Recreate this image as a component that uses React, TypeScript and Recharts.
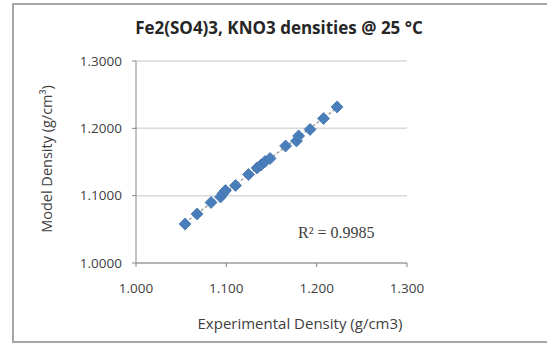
// Fe2(SO4)3, KNO3 densities — model vs experimental scatter with linear trendline.

import React from 'react'
import {
  ScatterChart,
  Scatter,
  XAxis,
  YAxis,
  CartesianGrid,
  ReferenceLine,
} from 'recharts'

const experimental = [
  1.0543, 1.0676, 1.0831, 1.0936, 1.0963, 1.0991, 1.1102, 1.1246, 1.134,
  1.1384, 1.1429, 1.1484, 1.1656, 1.1777, 1.18, 1.1927, 1.2076, 1.2226,
]
const model = [
  1.058, 1.0728, 1.0899, 1.0981, 1.1033, 1.1077, 1.1152, 1.1315, 1.1412,
  1.1456, 1.1508, 1.1553, 1.1738, 1.1813, 1.1887, 1.1984, 1.2147, 1.2318,
]
const xTicks = [1.0, 1.1, 1.2, 1.3]
const yTicks = [1.0, 1.1, 1.2, 1.3]
const rSquared = '0.9985'

const points = experimental.map((x, i) => ({ x, y: model[i] }))

// least-squares fit for the trendline
function fitLine(xs: number[], ys: number[]) {
  const n = xs.length
  const mx = xs.reduce((a, b) => a + b, 0) / n
  const my = ys.reduce((a, b) => a + b, 0) / n
  let sxy = 0
  let sxx = 0
  xs.forEach((x, i) => {
    sxy += (x - mx) * (ys[i] - my)
    sxx += (x - mx) * (x - mx)
  })
  const slope = sxy / sxx
  return { slope, intercept: my - slope * mx }
}

const fit = fitLine(experimental, model)
const xMin = Math.min(...experimental)
const xMax = Math.max(...experimental)

const MARKER = '#4a7ebb'
const TEXT = '#404040'
const FONT = '"Open Sans", "Noto Sans", sans-serif'

function Diamond(props: any) {
  const { cx, cy } = props
  const r = 6
  return (
    <polygon
      points={`${cx},${cy - r} ${cx + r},${cy} ${cx},${cy + r} ${cx - r},${cy}`}
      fill={MARKER}
      stroke="#3f70ab"
      strokeWidth={0.75}
    />
  )
}

export default function App() {
  return (
    <div style={{ position: 'absolute', left: 0, top: 0, width: 547, height: 344, background: '#fff', overflow: 'hidden', fontFamily: FONT }}>
      <div
        style={{
          position: 'absolute',
          left: 12,
          top: 3,
          width: 600,
          height: 336,
          borderLeft: '2px solid #a6a6a6',
          borderTop: '2px solid #a6a6a6',
          borderBottom: '2px solid #a6a6a6',
        }}
      />
      <div style={{ position: 'absolute', left: 0, top: 0 }}>
        <ScatterChart
          width={547}
          height={344}
          margin={{ top: 61, right: 140, bottom: 0, left: 0 }}
        >
          <CartesianGrid horizontal vertical={false} stroke="#d9d9d9" strokeWidth={1.5} />
          <XAxis
            type="number"
            dataKey="x"
            domain={[1.0, 1.3]}
            ticks={xTicks}
            tickFormatter={(v: number) => v.toFixed(3)}
            height={81}
            stroke="#868686"
            tickSize={4}
            tickMargin={16}
            tick={{ fontSize: 13.5, fill: TEXT, fontFamily: FONT }}
            allowDataOverflow
          />
          <YAxis
            type="number"
            dataKey="y"
            domain={[1.0, 1.3]}
            ticks={yTicks}
            tickFormatter={(v: number) => v.toFixed(4)}
            width={136}
            stroke="#868686"
            tickSize={4}
            tickMargin={10}
            tick={{ fontSize: 13.5, fill: TEXT, fontFamily: FONT }}
            allowDataOverflow
          />
          <Scatter data={points} shape={Diamond} isAnimationActive={false} />
          <ReferenceLine
            segment={[
              { x: xMin, y: fit.intercept + fit.slope * xMin },
              { x: xMax, y: fit.intercept + fit.slope * xMax },
            ]}
            stroke="#a6a6a6"
            strokeWidth={1.5}
            strokeDasharray="3 2"
            ifOverflow="visible"
          />
        </ScatterChart>
      </div>
      <div
        style={{
          position: 'absolute',
          left: 129,
          width: 300,
          top: 16,
          lineHeight: '24px',
          textAlign: 'center',
          fontSize: 17,
          fontWeight: 700,
          color: '#262626',
          whiteSpace: 'nowrap',
        }}
      >
        Fe2(SO4)3, KNO3 densities @ 25 °C
      </div>
      <div
        style={{
          position: 'absolute',
          left: 180,
          width: 240,
          top: 313,
          lineHeight: '20px',
          textAlign: 'center',
          fontSize: 15,
          color: TEXT,
          whiteSpace: 'nowrap',
        }}
      >
        Experimental Density (g/cm3)
      </div>
      <div
        style={{
          position: 'absolute',
          left: 47 - 90,
          top: 159 - 10,
          width: 180,
          lineHeight: '20px',
          textAlign: 'center',
          fontSize: 14.5,
          color: TEXT,
          whiteSpace: 'nowrap',
          transform: 'rotate(-90deg)',
        }}
      >
        Model Density (g/cm³)
      </div>
      <div
        style={{
          position: 'absolute',
          left: 298,
          top: 223,
          lineHeight: '20px',
          fontSize: 16,
          fontFamily: '"Liberation Serif", serif',
          color: TEXT,
          whiteSpace: 'nowrap',
        }}
      >
        R² = {rSquared}
      </div>
    </div>
  )
}
